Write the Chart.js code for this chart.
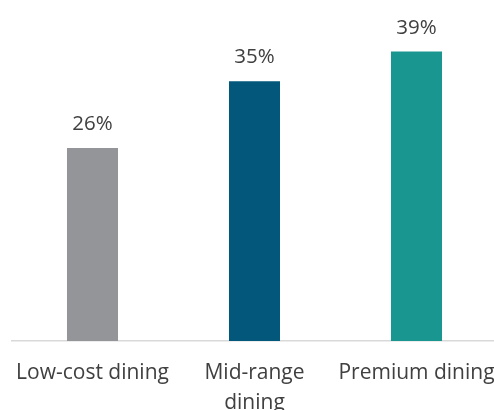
<!DOCTYPE html>
<html>
<head>
<meta charset="utf-8">
<script src="https://cdn.jsdelivr.net/npm/chart.js@4/dist/chart.umd.min.js"></script>
<style>
  html, body { margin: 0; padding: 0; overflow: hidden; background: #fff; }
  #wrap { position: absolute; left: 0; top: 0; width: 500px; height: 410px; }
</style>
</head>
<body>
<div id="wrap"><canvas id="chart" width="500" height="410"></canvas></div>
<script>
// Share of diners by segment
const categories = [['Low-cost dining'], ['Mid-range', 'dining'], ['Premium dining']];
const shares = [26, 35, 39];
const barColors = ['#939598', '#03577A', '#1A9690'];

// Draw the value above each bar
const valueLabels = {
    id: 'valueLabels',
    afterDatasetsDraw(chart) {
        const ctx = chart.ctx;
        const meta = chart.getDatasetMeta(0);
        ctx.save();
        ctx.font = '20.5px "Open Sans"';
        ctx.fillStyle = '#404040';
        ctx.textAlign = 'center';
        ctx.textBaseline = 'alphabetic';
        meta.data.forEach((bar, i) => {
            ctx.fillText(shares[i] + '%', bar.x, bar.y - 18);
        });
        ctx.restore();
    }
};

new Chart(document.getElementById('chart'), {
    type: 'bar',
    data: {
        labels: categories,
        datasets: [{
            data: shares,
            backgroundColor: barColors,
            barPercentage: 0.63,
            categoryPercentage: 0.5
        }]
    },
    options: {
        responsive: false,
        animation: false,
        layout: { padding: { top: 7, left: 11.5, right: 2.5, bottom: 0 } },
        plugins: { legend: { display: false }, tooltip: { enabled: false } },
        scales: {
            x: {
                grid: { display: false, drawTicks: false },
                border: { color: '#d9d9d9', width: 1.5 },
                ticks: {
                    color: '#404040',
                    font: { family: 'Open Sans', size: 21, lineHeight: 1.43 },
                    padding: 17,
                    maxRotation: 0,
                    autoSkip: false
                },
                // keep the plot area fixed, labels may overhang the edges
                afterFit: s => {
                    s.height = 69;
                    s.paddingLeft = 0;
                    s.paddingRight = 0;
                }
            },
            y: {
                display: false,
                min: 0,
                max: 45
            }
        }
    },
    plugins: [valueLabels]
});
</script>
</body>
</html>
